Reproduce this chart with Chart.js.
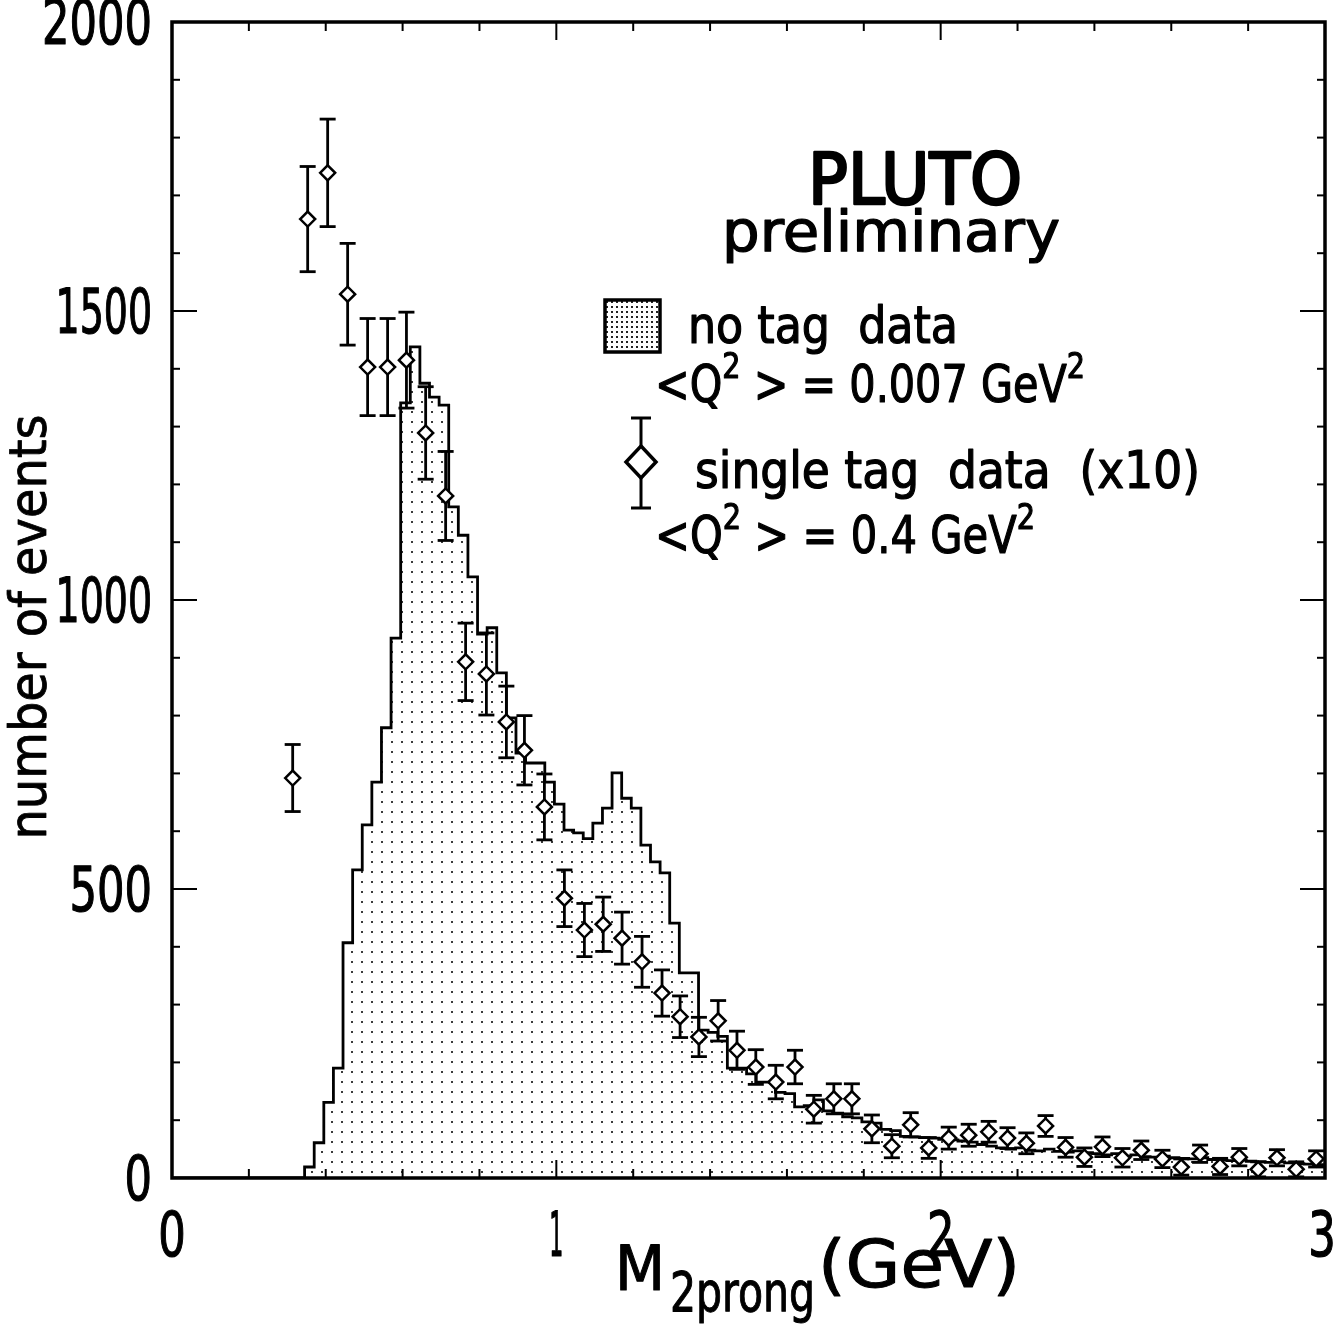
<!DOCTYPE html>
<html>
<head>
<meta charset="utf-8">
<script src="https://cdn.jsdelivr.net/npm/chart.js@4.4.0/dist/chart.umd.min.js"></script>
<style>
  html, body { margin: 0; padding: 0; background: #fff; }
</style>
</head>
<body>
<canvas id="graphic" width="1336" height="1327"></canvas>
<script>
// no tag histogram: bins of 0.025 GeV starting at 0.345 GeV
const binStart = 0.345;
const binWidth = 0.025;
const noTagCounts = [
  19, 61, 131, 190, 407, 533, 611, 685, 779, 934,
  1341, 1438, 1375, 1351, 1337, 1161, 1112, 1040, 941, 952,
  874, 796, 735, 718, 718, 685, 647, 602, 597, 587,
  614, 640, 701, 657, 640, 576, 547, 528, 441, 355,
  355, 256, 252, 245, 190, 190, 180, 166, 166, 148,
  146, 123, 125, 135, 116, 112, 106, 104, 97, 95,
  84, 82, 72, 71, 70, 69, 67, 66, 64, 62,
  58, 55, 52, 50, 52, 48, 47, 50, 46, 45,
  47, 44, 42, 40, 42, 38, 40, 37, 36, 38,
  35, 34, 33, 35, 32, 31, 30, 31, 29, 28,
  27, 28, 26, 25, 24, 23, 22
];

// single tag data (x10) with errors
const singleTagMass = [
  0.314, 0.353, 0.405, 0.457, 0.509, 0.561, 0.610, 0.660, 0.712, 0.764,
  0.818, 0.870, 0.917, 0.969, 1.021, 1.073, 1.122, 1.171, 1.223, 1.275,
  1.322, 1.371, 1.421, 1.470, 1.519, 1.571, 1.621, 1.670, 1.722, 1.769,
  1.821, 1.873, 1.922, 1.969, 2.021, 2.073, 2.125, 2.174, 2.223, 2.273,
  2.325, 2.374, 2.421, 2.473, 2.522, 2.577, 2.626, 2.675, 2.727, 2.777,
  2.826, 2.875, 2.925, 2.977
];
const singleTagEvents = [
  692, 1659, 1739, 1529, 1403, 1403, 1415, 1289, 1180, 893,
  872, 789, 740, 642, 484, 429, 439, 415, 374, 320,
  279, 244, 272, 221, 192, 166, 192, 119, 137, 137,
  85, 55, 92, 52, 69, 74, 80, 69, 60, 90,
  53, 36, 54, 35, 48, 33, 19, 42, 20, 36,
  15, 35, 15, 33
];
const singleTagErrors = [
  58, 91, 93, 88, 84, 84, 83, 80, 77, 67,
  71, 62, 60, 57, 49, 46, 47, 45, 44, 40,
  36, 34, 35, 33, 30, 29, 29, 24, 26, 26,
  24, 20, 21, 18, 19, 19, 18, 18, 18, 18,
  17, 16, 17, 16, 16, 15, 14, 15, 14, 15,
  13, 14, 13, 14
];

const xTickLabels = [0, 1, 2, 3];
const yTickLabels = [0, 500, 1000, 1500, 2000];
const xMinorStep = 0.2;
const yMinorStep = 100;

const FONT = "'DejaVu Sans Condensed', 'Liberation Sans Narrow', 'DejaVu Sans', sans-serif";

const canvas = document.getElementById("graphic");
const ctx = canvas.getContext("2d");

function dots(step, size, color) {
  const tile = document.createElement("canvas");
  tile.width = step;
  tile.height = step;
  const g = tile.getContext("2d");
  g.fillStyle = color;
  g.fillRect(1, 1, size, size);
  return ctx.createPattern(tile, "repeat");
}
const histFill = dots(10, 2, "#3a3a3a");
const legendFill = dots(5, 2, "#222");

const histPoints = [{ x: 0, y: 0 }];
noTagCounts.forEach((n, k) => histPoints.push({ x: binStart + k * binWidth, y: n }));
histPoints.push({ x: 3, y: noTagCounts[noTagCounts.length - 1] });

const tagPoints = singleTagMass.map((m, i) => ({ x: m, y: singleTagEvents[i] }));

// one line of text made of pieces [text, size, rise], squeezed to a width
function drawRun(c, segs, x, y, width, align, weight) {
  let natural = 0;
  const widths = segs.map(([t, size]) => {
    c.font = size + "px " + FONT;
    const w = c.measureText(t).width;
    natural += w;
    return w;
  });
  const sx = width ? width / natural : 1;
  c.save();
  c.translate(x, y);
  c.scale(sx, 1);
  let cx = 0;
  if (align === "center") cx = -natural / 2;
  if (align === "right") cx = -natural;
  c.textAlign = "left";
  c.textBaseline = "alphabetic";
  c.lineJoin = "round";
  c.lineWidth = weight || 1;
  segs.forEach(([t, size, rise], i) => {
    c.font = size + "px " + FONT;
    c.fillText(t, cx, -(rise || 0));
    c.strokeText(t, cx, -(rise || 0));
    cx += widths[i];
  });
  c.restore();
}

// the '1' is narrow in this lettering
function labelWidth(s) {
  let w = 0;
  for (const ch of s) w += ch === "1" ? 14 : 27.5;
  return w;
}

function seg(c, x1, y1, x2, y2) {
  c.beginPath();
  c.moveTo(x1, y1);
  c.lineTo(x2, y2);
  c.stroke();
}

const errorBars = {
  id: "errorBars",
  beforeDatasetDraw(chart, args) {
    if (args.index !== 0) return;
    const c = chart.ctx;
    const ys = chart.scales.y;
    const meta = chart.getDatasetMeta(0);
    c.save();
    c.strokeStyle = "#000";
    c.lineWidth = 2.8;
    meta.data.forEach((pt, i) => {
      const top = ys.getPixelForValue(singleTagEvents[i] + singleTagErrors[i]);
      const bot = ys.getPixelForValue(Math.max(0, singleTagEvents[i] - singleTagErrors[i]));
      seg(c, pt.x, top, pt.x, bot);
      seg(c, pt.x - 8, top, pt.x + 8, top);
      seg(c, pt.x - 8, bot, pt.x + 8, bot);
    });
    c.restore();
  }
};

const frame = {
  id: "frame",
  afterDatasetsDraw(chart) {
    const c = chart.ctx;
    const { left, right, top, bottom } = chart.chartArea;
    const xs = chart.scales.x;
    const ys = chart.scales.y;
    const yMax = yTickLabels[yTickLabels.length - 1];
    const xMax = xTickLabels[xTickLabels.length - 1];
    c.save();
    c.strokeStyle = "#000";
    c.fillStyle = "#000";
    c.lineWidth = 2;
    for (let v = 0; v <= yMax + 1e-6; v += yMinorStep) {
      const y = ys.getPixelForValue(v);
      const len = yTickLabels.includes(v) ? 25 : 8;
      seg(c, left, y, left + len, y);
      seg(c, right, y, right - len, y);
    }
    for (let i = 0; i * xMinorStep <= xMax + 1e-6; i++) {
      const v = i * xMinorStep;
      const x = xs.getPixelForValue(v);
      const len = Math.abs(v - Math.round(v)) < 1e-6 ? 18 : 9;
      seg(c, x, top, x, top + len);
      seg(c, x, bottom, x, bottom - len);
    }
    c.lineWidth = 3.5;
    c.strokeRect(left, top, right - left, bottom - top);

    // tick labels
    yTickLabels.forEach((v) => {
      const s = String(v);
      drawRun(c, [[s, 62]], left - 20, ys.getPixelForValue(v) + 22, labelWidth(s), "right", 1.2);
    });
    xTickLabels.forEach((v) => {
      const s = String(v);
      const x = Math.min(xs.getPixelForValue(v), chart.width - 14);
      drawRun(c, [[s, 62]], x, bottom + 78, labelWidth(s), "center", 1.2);
    });
    c.restore();
  }
};

const annotations = {
  id: "annotations",
  afterDraw(chart) {
    const c = chart.ctx;
    c.save();
    c.fillStyle = "#000";
    c.strokeStyle = "#000";

    drawRun(c, [["PLUTO", 72]], 808, 204, 214, "left", 2.5);
    drawRun(c, [["preliminary", 57]], 722, 251, 338, "left", 1.2);

    // legend: no tag
    c.fillStyle = legendFill;
    c.fillRect(605, 300, 55, 52);
    c.lineWidth = 3.5;
    c.strokeRect(605, 300, 55, 52);
    c.fillStyle = "#000";
    drawRun(c, [["no tag  data", 52]], 688, 343, 270, "left", 1.2);
    drawRun(c, [["<Q", 52], ["2", 36, 24], [" > = 0.007 GeV", 52], ["2", 36, 24]], 655, 402, 430, "left", 1.2);

    // legend: single tag
    c.lineWidth = 3;
    seg(c, 641, 418, 641, 508);
    seg(c, 631, 418, 651, 418);
    seg(c, 631, 508, 651, 508);
    c.beginPath();
    c.moveTo(641, 446);
    c.lineTo(656, 462);
    c.lineTo(641, 478);
    c.lineTo(626, 462);
    c.closePath();
    c.fillStyle = "#fff";
    c.fill();
    c.lineWidth = 3.5;
    c.stroke();
    c.fillStyle = "#000";
    drawRun(c, [["single tag  data  (x10)", 52]], 695, 488, 505, "left", 1.2);
    drawRun(c, [["<Q", 52], ["2", 36, 24], [" > = 0.4 GeV", 52], ["2", 36, 24]], 655, 553, 380, "left", 1.2);

    // axis titles
    drawRun(c, [["M", 62]], 615, 1290, 50, "left", 1);
    drawRun(c, [["2prong", 56]], 670, 1311, 145, "left", 1);
    drawRun(c, [["(GeV)", 66]], 818, 1287, 202, "left", 1);

    c.translate(46, 627);
    c.rotate(-Math.PI / 2);
    drawRun(c, [["number of events", 52]], 0, 0, 425, "center", 0.8);
    c.restore();
  }
};

const chart = new Chart(ctx, {
  type: "scatter",
  data: {
    datasets: [
      {
        type: "scatter",
        label: "single tag data (x10)",
        data: tagPoints,
        pointStyle: "rectRot",
        pointRadius: 7.5,
        pointBackgroundColor: "#fff",
        pointBorderColor: "#000",
        pointBorderWidth: 2.5
      },
      {
        type: "line",
        label: "no tag data",
        data: histPoints,
        stepped: "before",
        borderColor: "#000",
        borderWidth: 2.8,
        pointRadius: 0,
        fill: "origin",
        backgroundColor: histFill
      }
    ]
  },
  options: {
    responsive: false,
    animation: false,
    events: [],
    layout: { padding: { top: 22, right: 11, left: 0, bottom: 0 } },
    plugins: { legend: { display: false }, tooltip: { enabled: false } },
    scales: {
      x: {
        type: "linear",
        min: xTickLabels[0],
        max: xTickLabels[xTickLabels.length - 1],
        grid: { display: false },
        border: { display: false },
        ticks: { display: false, stepSize: 1 },
        afterFit(scale) {
          scale.height = 149;
          scale.paddingLeft = 0;
          scale.paddingRight = 0;
        }
      },
      y: {
        min: yTickLabels[0],
        max: yTickLabels[yTickLabels.length - 1],
        grid: { display: false },
        border: { display: false },
        ticks: { display: false, stepSize: 500 },
        afterFit(scale) {
          scale.width = 172;
          scale.paddingTop = 0;
          scale.paddingBottom = 0;
        }
      }
    }
  },
  plugins: [errorBars, frame, annotations]
});
</script>
</body>
</html>
